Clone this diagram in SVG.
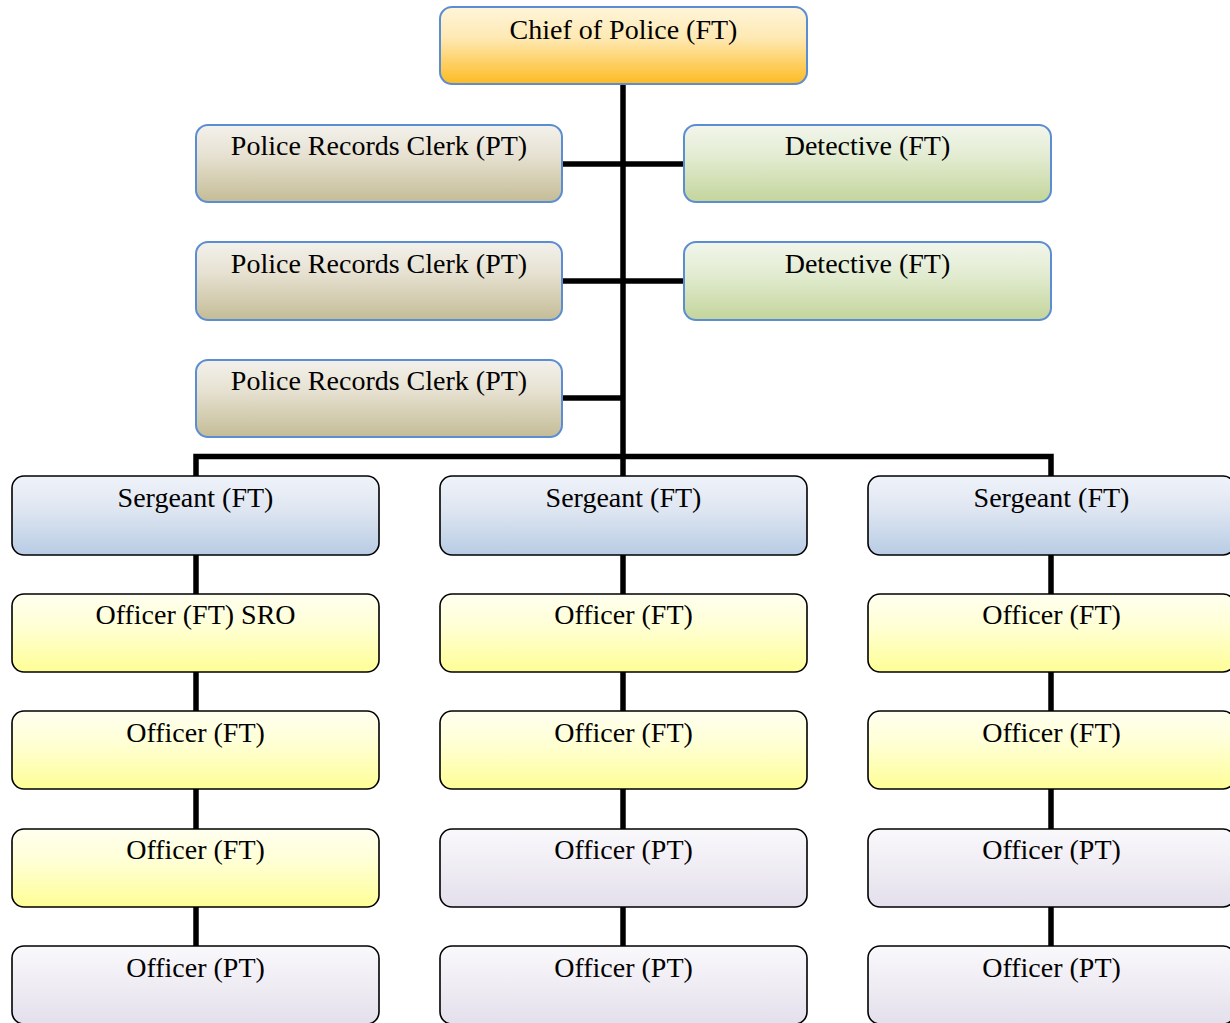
<svg xmlns="http://www.w3.org/2000/svg" width="1230" height="1023" viewBox="0 0 1230 1023">
<defs>
<linearGradient id="gChief" x1="0" y1="0" x2="0" y2="1"><stop offset="0" stop-color="#fff5d9"/><stop offset="0.4" stop-color="#fee9b4"/><stop offset="1" stop-color="#fdbb22"/></linearGradient>
<linearGradient id="gClerk" x1="0" y1="0" x2="0" y2="1"><stop offset="0" stop-color="#f3f1ec"/><stop offset="0.4" stop-color="#e6e1d1"/><stop offset="1" stop-color="#c4bc96"/></linearGradient>
<linearGradient id="gDet" x1="0" y1="0" x2="0" y2="1"><stop offset="0" stop-color="#f2f6ec"/><stop offset="0.4" stop-color="#e3ecd2"/><stop offset="1" stop-color="#c3d59b"/></linearGradient>
<linearGradient id="gSgt" x1="0" y1="0" x2="0" y2="1"><stop offset="0" stop-color="#eff2f9"/><stop offset="0.4" stop-color="#e0e7f2"/><stop offset="1" stop-color="#b8cce4"/></linearGradient>
<linearGradient id="gFT" x1="0" y1="0" x2="0" y2="1"><stop offset="0" stop-color="#fffff0"/><stop offset="0.4" stop-color="#ffffd6"/><stop offset="1" stop-color="#fefe96"/></linearGradient>
<linearGradient id="gPT" x1="0" y1="0" x2="0" y2="1"><stop offset="0" stop-color="#f9f8fb"/><stop offset="0.4" stop-color="#f1eff5"/><stop offset="1" stop-color="#e4dfec"/></linearGradient>
</defs>
<style>
.blue{stroke:#5b8dd3;stroke-width:2}
.blk{stroke:#000;stroke-width:1.6}
text{font-family:"Liberation Serif","Times New Roman",serif;font-size:28px;fill:#000;text-anchor:middle}
.conn{stroke:#000;stroke-width:5.5;fill:none}
</style>
<g id="connectors">
<line class="conn" x1="623" y1="84" x2="623" y2="476"/>
<line class="conn" x1="562" y1="164" x2="684" y2="164"/>
<line class="conn" x1="562" y1="281" x2="684" y2="281"/>
<line class="conn" x1="562" y1="398" x2="623" y2="398"/>
<polyline class="conn" points="196,476 196,456.5 1051,456.5 1051,476"/>
<line class="conn" x1="196" y1="555" x2="196" y2="594"/>
<line class="conn" x1="196" y1="672" x2="196" y2="711"/>
<line class="conn" x1="196" y1="789" x2="196" y2="829"/>
<line class="conn" x1="196" y1="907" x2="196" y2="946"/>
<line class="conn" x1="623" y1="555" x2="623" y2="594"/>
<line class="conn" x1="623" y1="672" x2="623" y2="711"/>
<line class="conn" x1="623" y1="789" x2="623" y2="829"/>
<line class="conn" x1="623" y1="907" x2="623" y2="946"/>
<line class="conn" x1="1051" y1="555" x2="1051" y2="594"/>
<line class="conn" x1="1051" y1="672" x2="1051" y2="711"/>
<line class="conn" x1="1051" y1="789" x2="1051" y2="829"/>
<line class="conn" x1="1051" y1="907" x2="1051" y2="946"/>
</g>
<g id="chief"><rect class="blue" x="440" y="7" width="367" height="77" rx="12" fill="url(#gChief)"/><text x="623.5" y="39">Chief of Police (FT)</text></g>
<g id="clerk1"><rect class="blue" x="196" y="125" width="366" height="77" rx="12" fill="url(#gClerk)"/><text x="379" y="155">Police Records Clerk (PT)</text></g>
<g id="detective1"><rect class="blue" x="684" y="125" width="367" height="77" rx="12" fill="url(#gDet)"/><text x="867.5" y="155">Detective (FT)</text></g>
<g id="clerk2"><rect class="blue" x="196" y="242" width="366" height="78" rx="12" fill="url(#gClerk)"/><text x="379" y="273">Police Records Clerk (PT)</text></g>
<g id="detective2"><rect class="blue" x="684" y="242" width="367" height="78" rx="12" fill="url(#gDet)"/><text x="867.5" y="273">Detective (FT)</text></g>
<g id="clerk3"><rect class="blue" x="196" y="360" width="366" height="77" rx="12" fill="url(#gClerk)"/><text x="379" y="390">Police Records Clerk (PT)</text></g>
<g id="sgt1"><rect class="blk" x="12" y="476" width="367" height="79" rx="12" fill="url(#gSgt)"/><text x="195.5" y="507">Sergeant (FT)</text></g>
<g id="sgt2"><rect class="blk" x="440" y="476" width="367" height="79" rx="12" fill="url(#gSgt)"/><text x="623.5" y="507">Sergeant (FT)</text></g>
<g id="sgt3"><rect class="blk" x="868" y="476" width="367" height="79" rx="12" fill="url(#gSgt)"/><text x="1051.5" y="507">Sergeant (FT)</text></g>
<g id="off1a"><rect class="blk" x="12" y="594" width="367" height="78" rx="12" fill="url(#gFT)"/><text x="195.5" y="624">Officer (FT) SRO</text></g>
<g id="off2a"><rect class="blk" x="440" y="594" width="367" height="78" rx="12" fill="url(#gFT)"/><text x="623.5" y="624">Officer (FT)</text></g>
<g id="off3a"><rect class="blk" x="868" y="594" width="367" height="78" rx="12" fill="url(#gFT)"/><text x="1051.5" y="624">Officer (FT)</text></g>
<g id="off1b"><rect class="blk" x="12" y="711" width="367" height="78" rx="12" fill="url(#gFT)"/><text x="195.5" y="742">Officer (FT)</text></g>
<g id="off2b"><rect class="blk" x="440" y="711" width="367" height="78" rx="12" fill="url(#gFT)"/><text x="623.5" y="742">Officer (FT)</text></g>
<g id="off3b"><rect class="blk" x="868" y="711" width="367" height="78" rx="12" fill="url(#gFT)"/><text x="1051.5" y="742">Officer (FT)</text></g>
<g id="off1c"><rect class="blk" x="12" y="829" width="367" height="78" rx="12" fill="url(#gFT)"/><text x="195.5" y="859">Officer (FT)</text></g>
<g id="off2c"><rect class="blk" x="440" y="829" width="367" height="78" rx="12" fill="url(#gPT)"/><text x="623.5" y="859">Officer (PT)</text></g>
<g id="off3c"><rect class="blk" x="868" y="829" width="367" height="78" rx="12" fill="url(#gPT)"/><text x="1051.5" y="859">Officer (PT)</text></g>
<g id="off1d"><rect class="blk" x="12" y="946" width="367" height="78" rx="12" fill="url(#gPT)"/><text x="195.5" y="977">Officer (PT)</text></g>
<g id="off2d"><rect class="blk" x="440" y="946" width="367" height="78" rx="12" fill="url(#gPT)"/><text x="623.5" y="977">Officer (PT)</text></g>
<g id="off3d"><rect class="blk" x="868" y="946" width="367" height="78" rx="12" fill="url(#gPT)"/><text x="1051.5" y="977">Officer (PT)</text></g>
</svg>
